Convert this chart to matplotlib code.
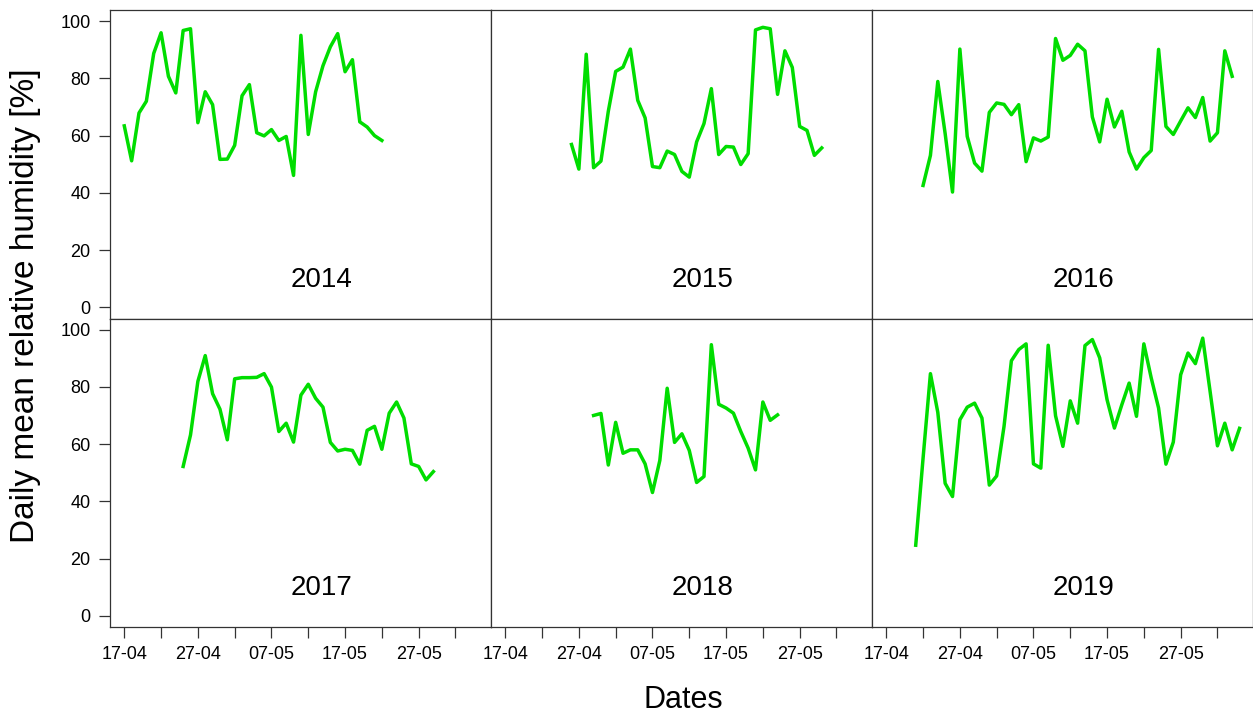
import matplotlib
matplotlib.use("Agg")
import matplotlib.pyplot as plt

plt.rcParams['font.family'] = ['Liberation Sans', 'DejaVu Sans']

# dagar räknat från 17 april
years = [2014, 2015, 2016, 2017, 2018, 2019]
start_day = {2014: 0, 2015: 9, 2016: 5, 2017: 8, 2018: 12, 2019: 4}

rh_2014 = [63.4, 51.2, 67.9, 72.0, 88.7, 95.9, 80.7, 74.9, 96.7, 97.3, 64.5, 75.3,
           70.8, 51.7, 51.8, 56.6, 73.9, 77.8, 61.0, 59.9, 62.1, 58.3, 59.7, 46.1,
           95.0, 60.4, 75.3, 84.4, 91.0, 95.6, 82.3, 86.5, 64.8, 63.0, 60.0, 58.3]
rh_2015 = [56.9, 48.3, 88.4, 48.8, 51.1, 68.5, 82.4, 83.9, 90.2, 72.3, 66.2, 49.2,
           48.8, 54.6, 53.4, 47.5, 45.5, 57.8, 64.2, 76.4, 53.4, 56.2, 56.0, 49.9,
           53.7, 96.9, 97.8, 97.3, 74.4, 89.6, 83.8, 63.2, 61.8, 53.1, 55.7]
rh_2016 = [42.6, 53.1, 78.9, 60.7, 40.3, 90.2, 59.7, 50.4, 47.6, 68.1, 71.4, 70.9,
           67.3, 70.8, 50.9, 59.2, 58.1, 59.5, 93.9, 86.3, 88.0, 91.9, 89.6, 66.5,
           57.8, 72.7, 63.0, 68.5, 54.3, 48.3, 52.3, 54.8, 90.1, 63.2, 60.4, 65.1,
           69.7, 66.3, 73.3, 58.1, 61.0, 89.6, 80.7]
rh_2017 = [52.2, 63.2, 81.9, 90.9, 77.6, 72.2, 61.5, 82.8, 83.2, 83.2, 83.3, 84.6,
           79.9, 64.4, 67.3, 60.7, 77.1, 80.9, 76.0, 72.9, 60.6, 57.6, 58.2, 57.8,
           53.0, 64.8, 66.2, 58.2, 70.8, 74.7, 69.1, 53.1, 52.2, 47.5, 50.4]
rh_2018 = [70.0, 70.7, 52.7, 67.6, 56.8, 58.0, 58.0, 53.1, 43.1, 54.3, 79.5, 60.6,
           63.6, 57.8, 46.6, 48.7, 94.7, 73.9, 72.6, 70.8, 64.4, 58.6, 51.0, 74.7,
           68.3, 70.2]
rh_2019 = [24.7, 55.1, 84.6, 71.1, 46.3, 41.7, 68.5, 72.9, 74.3, 69.1, 45.7, 48.9,
           66.2, 89.1, 93.0, 95.0, 53.1, 51.6, 94.5, 69.9, 59.2, 75.1, 67.3, 94.4,
           96.5, 90.1, 75.5, 65.6, 73.7, 81.3, 69.7, 95.0, 83.1, 72.6, 53.0, 60.7,
           84.2, 91.8, 88.1, 97.0, 78.4, 59.4, 67.3, 58.0, 65.5]
rh = {2014: rh_2014, 2015: rh_2015, 2016: rh_2016,
      2017: rh_2017, 2018: rh_2018, 2019: rh_2019}

tick_days = [0, 5, 10, 15, 20, 25, 30, 35, 40, 45]
tick_labels = ['17-04', '', '27-04', '', '07-05', '', '17-05', '', '27-05', '']
y_ticks = [0, 20, 40, 60, 80, 100]

fig = plt.figure(figsize=(12.53, 7.18), dpi=100)
axes = fig.subplots(2, 3, sharex=True, sharey=True,
                    gridspec_kw=dict(wspace=0, hspace=0))
fig.subplots_adjust(left=110/1253, right=1.0, top=1-10/718, bottom=1-627/718)

for k, year in enumerate(years):
    ax = axes[k // 3, k % 3]
    vals = rh[year]
    days = [start_day[year] + i for i in range(len(vals))]
    ax.plot(days, vals, color='#00dd00', lw=2.5)
    ax.text(0.556, 0.125, str(year), transform=ax.transAxes, fontsize=20,
            ha='center', va='center')
    ax.set_xlim(-1.94, 49.83)
    ax.set_ylim(-3.85, 103.85)
    for s in ax.spines.values():
        s.set_color('#333333')
        s.set_linewidth(0.9)
    ax.tick_params(direction='out', length=8, width=0.9, color='#333333',
                   labelsize=13, pad=6)
    if k % 3 != 0:
        ax.tick_params(left=False, labelleft=False)
    if k < 3:
        ax.tick_params(bottom=False, labelbottom=False)

axes[0, 0].set_yticks(y_ticks)
axes[0, 0].set_xticks(tick_days)
for ax in axes[1]:
    ax.set_xticks(tick_days)
    ax.set_xticklabels(tick_labels)

fig.text(26/1253, 1-306/718, 'Daily mean relative humidity [%]', rotation=90,
         fontsize=24, ha='center', va='center')
fig.text(683/1253, 1-700/718, 'Dates', fontsize=22, ha='center', va='center')

fig.savefig('out.png', dpi=100)
